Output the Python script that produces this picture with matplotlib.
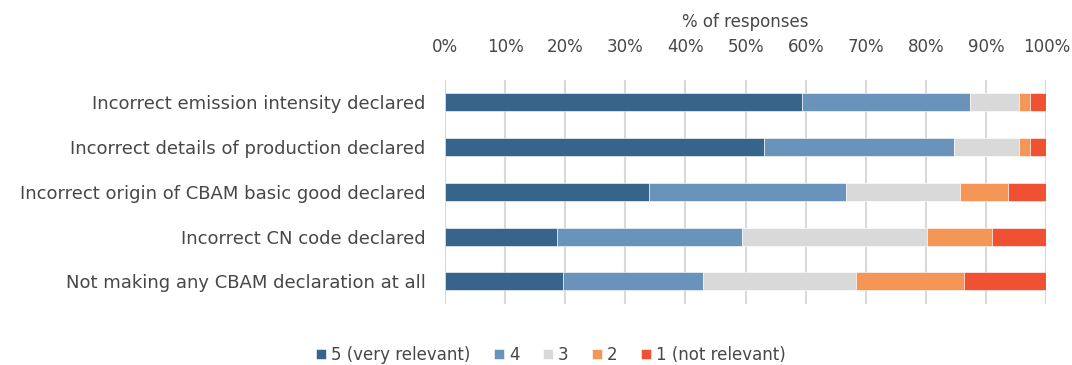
import matplotlib.pyplot as plt
import numpy as np

# Share of responses (%) per relevance score, top row first
categories = [
    "Incorrect emission intensity declared",
    "Incorrect details of production declared",
    "Incorrect origin of CBAM basic good declared",
    "Incorrect CN code declared",
    "Not making any CBAM declaration at all",
]
score_5 = [59.3, 53.0, 34.0, 18.6, 19.6]
score_4 = [28.1, 31.7, 32.7, 30.8, 23.4]
score_3 = [8.0, 10.7, 19.0, 30.7, 25.3]
score_2 = [1.9, 1.9, 8.0, 10.9, 18.0]
score_1 = [2.7, 2.7, 6.3, 9.0, 13.7]

series_names = ["5 (very relevant)", "4", "3", "2", "1 (not relevant)"]
colors = ["#36648B", "#6993BA", "#D9D9D9", "#F39656", "#F05133"]
tick_vals = np.arange(0, 101, 10)

text_color = "#474747"
plt.rcParams["font.family"] = ["DejaVu Sans"]

fig = plt.figure(figsize=(10.72, 3.65), dpi=100)
ax = fig.add_axes([0.415, 0.168, 0.561, 0.613])

y = np.arange(len(categories))
left = np.zeros(len(categories))
for vals, name, col in zip([score_5, score_4, score_3, score_2, score_1],
                           series_names, colors):
    vals = np.array(vals)
    ax.barh(y, vals, left=left, height=0.4, color=col, label=name,
            edgecolor="white", linewidth=0.4, zorder=3)
    left += vals

ax.set_xlim(0, 100)
ax.set_ylim(len(categories) - 0.5, -0.5)
ax.set_yticks(y)
ax.set_yticklabels(categories, fontsize=13, color=text_color)

ax.xaxis.tick_top()
ax.xaxis.set_label_position("top")
ax.set_xticks(tick_vals)
ax.set_xticklabels([f"{v}%" for v in tick_vals], fontsize=12, color=text_color)
ax.set_xlabel("% of responses", fontsize=12, color=text_color, labelpad=8)
ax.tick_params(axis="both", length=0)
ax.tick_params(axis="x", pad=17)
ax.tick_params(axis="y", pad=14)

ax.grid(axis="x", color="#D9D9D9", linewidth=1.5, zorder=0)
for s in ax.spines.values():
    s.set_visible(False)

fig.legend(loc="center", bbox_to_anchor=(0.514, 0.028), ncol=5, frameon=False,
           fontsize=12, labelcolor=text_color, handlelength=0.6,
           handleheight=0.6, handletextpad=0.3, columnspacing=1.4)

fig.savefig("out.png", dpi=100)
